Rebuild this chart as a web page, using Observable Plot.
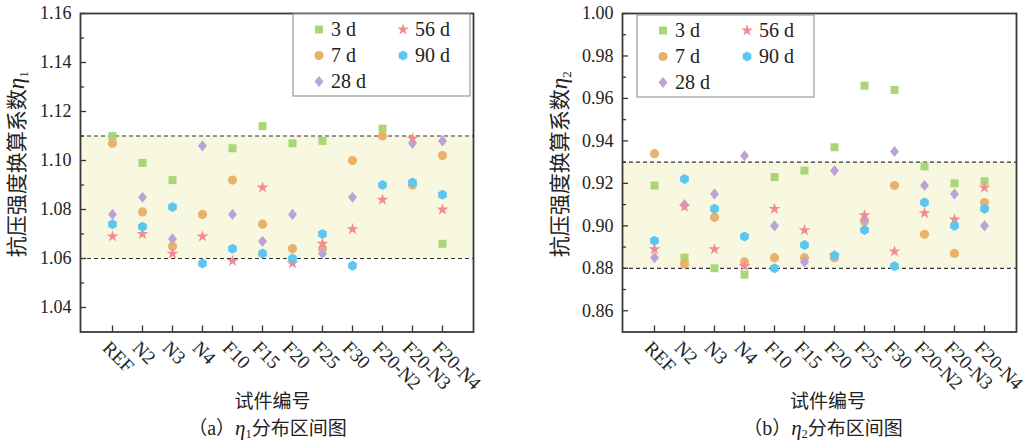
<!DOCTYPE html>
<html><head><meta charset="utf-8">
<script src="https://cdn.jsdelivr.net/npm/d3@7"></script>
<script src="https://cdn.jsdelivr.net/npm/@observablehq/plot@0.6"></script>
<style>
html,body{margin:0;padding:0;background:#fff;}
#wrap{display:flex;width:1030px;height:443px;overflow:hidden;}
#wrap > div{width:515px;height:443px;}
</style></head><body><div id="wrap"><div id="a"></div><div id="b"></div></div>
<script>
// ---------- data ----------
const categories = ["REF","N2","N3","N4","F10","F15","F20","F25","F30","F20-N2","F20-N3","F20-N4"];
const ages = ["3 d","7 d","28 d","56 d","90 d"];

// eta1 (panel a)
const eta1_3d  = [1.110, 1.099, 1.092, null, 1.105, 1.114, 1.107, 1.108, null, 1.113, null, 1.066];
const eta1_7d  = [1.107, 1.079, 1.065, 1.078, 1.092, 1.074, 1.064, 1.064, 1.100, 1.110, 1.090, 1.102];
const eta1_28d = [1.078, 1.085, 1.068, 1.106, 1.078, 1.067, 1.078, 1.062, 1.085, null, 1.107, 1.108];
const eta1_56d = [1.069, 1.070, 1.062, 1.069, 1.059, 1.089, 1.058, 1.066, 1.072, 1.084, 1.109, 1.080];
const eta1_90d = [1.074, 1.073, 1.081, 1.058, 1.064, 1.062, 1.060, 1.070, 1.057, 1.090, 1.091, 1.086];

// eta2 (panel b)
const eta2_3d  = [0.919, 0.885, 0.880, 0.877, 0.923, 0.926, 0.937, 0.966, 0.964, 0.928, 0.920, 0.921];
const eta2_7d  = [0.934, 0.882, 0.904, 0.883, 0.885, 0.885, 0.885, 0.902, 0.919, 0.896, 0.887, 0.911];
const eta2_28d = [0.885, 0.910, 0.915, 0.933, 0.900, 0.883, 0.926, 0.903, 0.935, 0.919, 0.915, 0.900];
const eta2_56d = [0.889, 0.909, 0.889, 0.881, 0.908, 0.898, 0.886, 0.905, 0.888, 0.906, 0.903, 0.918];
const eta2_90d = [0.893, 0.922, 0.908, 0.895, 0.880, 0.891, 0.886, 0.898, 0.881, 0.911, 0.900, 0.908];

const eta1Band = [1.06, 1.11];
const eta2Band = [0.88, 0.93];
const eta1Domain = [1.03, 1.16];
const eta2Domain = [0.85, 1.00];
const eta1Ticks = [1.04, 1.06, 1.08, 1.10, 1.12, 1.14, 1.16];
const eta1Minor = [1.05, 1.07, 1.09, 1.11, 1.13, 1.15];
const eta2Ticks = [0.86, 0.88, 0.90, 0.92, 0.94, 0.96, 0.98, 1.00];
const eta2Minor = [0.87, 0.89, 0.91, 0.93, 0.95, 0.97, 0.99];

// ---------- styles ----------
const colors = ["#A9D676", "#E9B26C", "#BDA2D6", "#F28B95", "#5CC5F0"];
const symSquare = {draw(c){ c.rect(-4, -4, 8, 8); }};
const symCircle = {draw(c){ c.moveTo(4.6, 0); c.arc(0, 0, 4.6, 0, 2 * Math.PI); c.closePath(); }};
const symDiamond = {draw(c){ c.moveTo(0, -5.6); c.lineTo(4.5, 0); c.lineTo(0, 5.6); c.lineTo(-4.5, 0); c.closePath(); }};
const symStar = {draw(c){ d3.symbolStar.draw(c, 44); }};
const symHex = {draw(c){ const r = 5; for (let k = 0; k < 6; k++){ const a = Math.PI / 3 * k - Math.PI / 2; const x = r * Math.cos(a), y = r * Math.sin(a); k ? c.lineTo(x, y) : c.moveTo(x, y);} c.closePath(); }};
const symbols = [symSquare, symCircle, symDiamond, symStar, symHex];

const W = 515, H = 443, MT = 13, MB = 111.5;
const serif = "'Liberation Serif', 'Times New Roman', serif";
const cjk = "'Noto Sans CJK SC', sans-serif";

function panel(el, cfg){
  const fw = W - cfg.ml - cfg.mr, fh = H - MT - MB;
  const rows = [];
  ages.forEach((a, i) => cfg.series[i].forEach((v, j) => { if (v != null) rows.push({cat: categories[j], age: a, v}); }));
  const svg = Plot.plot({
    width: W, height: H, marginLeft: cfg.ml, marginRight: cfg.mr, marginTop: MT, marginBottom: MB,
    style: {fontFamily: serif, fontSize: "18px", color: "#222", background: "transparent"},
    x: {type: "point", domain: categories, padding: 1, axis: null},
    y: {domain: cfg.domain},
    marks: [
      Plot.rect([cfg.band], {y1: d => d[0], y2: d => d[1], fill: "#F8F8E1"}),
      Plot.ruleY(cfg.band, {stroke: "#333", strokeWidth: 1.2, strokeDasharray: "4,3"}),
      ...ages.map((a, i) => Plot.dot(rows.filter(r => r.age === a), {x: "cat", y: "v", symbol: symbols[i], fill: colors[i], stroke: "none"})),
      Plot.tickY(cfg.major, {y: d => d, insetRight: fw - 6, stroke: "#333", strokeWidth: 1.3}),
      Plot.tickY(cfg.minor, {y: d => d, insetRight: fw - 4, stroke: "#333", strokeWidth: 1.3}),
      Plot.tickX(categories, {x: d => d, insetTop: fh - 6, stroke: "#333", strokeWidth: 1.3}),
      Plot.axisY({ticks: cfg.major, tickSize: 0, tickPadding: 9, tickFormat: d => d.toFixed(2), label: null, fontSize: 18}),
      Plot.text(categories, {x: d => d, frameAnchor: "bottom", rotate: 45, textAnchor: "start", lineAnchor: "bottom", dx: -11, dy: 17, fontSize: 19, fill: "#222"}),
      Plot.frame({stroke: "#3a3a3a", strokeWidth: 1.8})
    ]
  });
  const s = d3.select(svg);
  const cx = cfg.ml + fw / 2;
  // y label
  const yl = s.append("text").attr("transform", `translate(${cfg.ylx},${MT + fh / 2 - 8}) rotate(-90)`)
    .attr("text-anchor", "middle").attr("font-family", cjk).attr("font-size", 21).attr("fill", "#222");
  yl.append("tspan").text("抗压强度换算系数");
  yl.append("tspan").attr("font-family", serif).attr("font-style", "italic").attr("font-size", 23).text("η");
  yl.append("tspan").attr("font-family", serif).attr("font-size", 13).attr("dy", 4).text(cfg.sub);
  // x title
  s.append("text").attr("x", cx + cfg.xtShift).attr("y", 408).attr("text-anchor", "middle")
    .attr("font-family", cjk).attr("font-size", 19).attr("fill", "#222").text("试件编号");
  const cap = s.append("text").attr("x", cx + cfg.xtShift - 5).attr("y", 435).attr("text-anchor", "middle")
    .attr("font-family", cjk).attr("font-size", 19).attr("fill", "#222");
  cap.append("tspan").text("（");
  cap.append("tspan").attr("font-family", serif).attr("font-size", 20).text(cfg.letter);
  cap.append("tspan").text("）");
  cap.append("tspan").attr("font-family", serif).attr("font-style", "italic").attr("font-size", 21).text("η");
  cap.append("tspan").attr("font-family", serif).attr("font-size", 12.5).attr("dy", 3).text(cfg.sub);
  cap.append("tspan").attr("dy", -3).text("分布区间图");
  // legend
  const lg = s.append("g").attr("transform", `translate(${cfg.lx},${cfg.ly})`);
  lg.append("rect").attr("width", 177).attr("height", 82).attr("fill", "#fff").attr("stroke", "#999").attr("stroke-width", 1.2);
  const pos = [[26, 15.5], [26, 41.5], [26, 67.5], [110, 15.5], [110, 41.5]];
  ages.forEach((a, i) => {
    const p = d3.path(); symbols[i].draw(p, 0);
    lg.append("path").attr("transform", `translate(${pos[i][0]},${pos[i][1]})`).attr("d", p.toString()).attr("fill", colors[i]);
    lg.append("text").attr("x", pos[i][0] + 12).attr("y", pos[i][1] + 6.5).attr("text-anchor", "start")
      .attr("font-family", serif).attr("font-size", 20).attr("fill", "#222").text(a);
  });
  el.appendChild(svg);
}

panel(document.getElementById("a"), {
  ml: 80, mr: 42, domain: eta1Domain, band: eta1Band, major: eta1Ticks, minor: eta1Minor,
  series: [eta1_3d, eta1_7d, eta1_28d, eta1_56d, eta1_90d], sub: "1", letter: "a",
  ylx: 24, xtShift: -4, lx: 293, ly: 14
});
panel(document.getElementById("b"), {
  ml: 107, mr: 14, domain: eta2Domain, band: eta2Band, major: eta2Ticks, minor: eta2Minor,
  series: [eta2_3d, eta2_7d, eta2_28d, eta2_56d, eta2_90d], sub: "2", letter: "b",
  ylx: 52, xtShift: 9, lx: 122, ly: 15
});
</script></body></html>
